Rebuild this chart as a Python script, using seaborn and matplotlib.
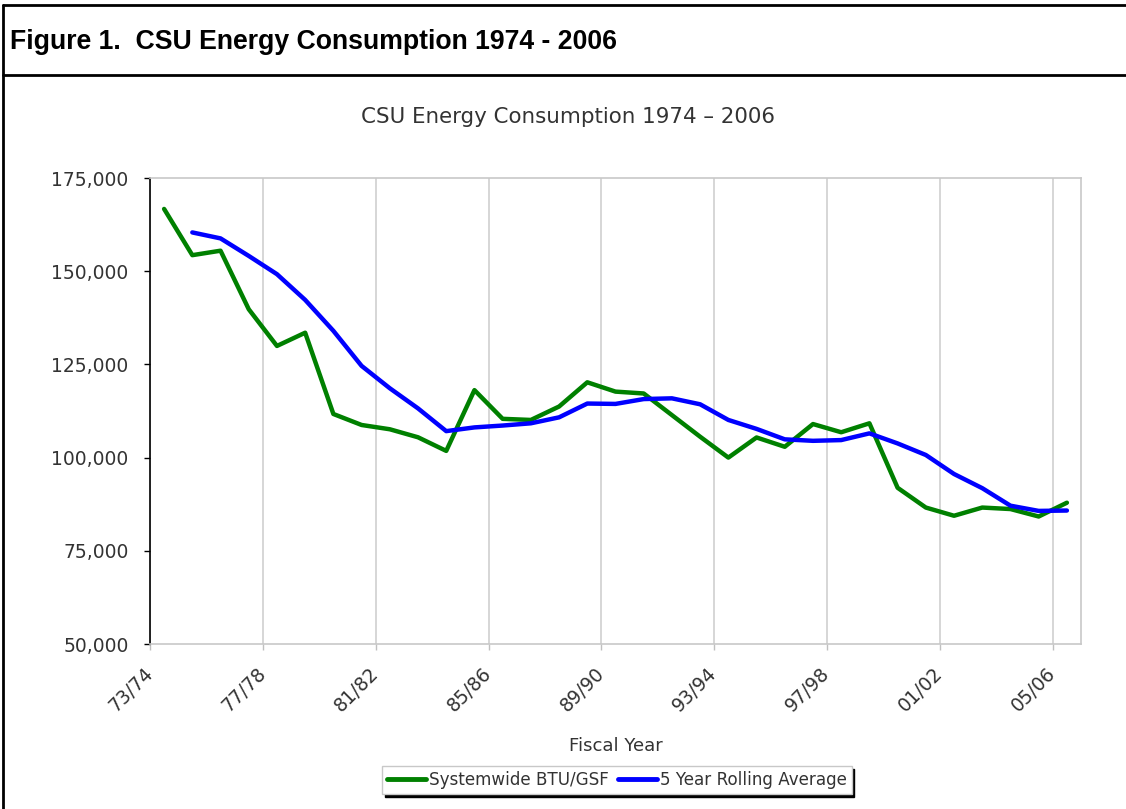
import numpy as np
import pandas as pd
import matplotlib
matplotlib.use("Agg")
import matplotlib.pyplot as plt
from matplotlib.lines import Line2D
import seaborn as sns

# ---- data ----
fiscal_years = ["73/74", "74/75", "75/76", "76/77", "77/78", "78/79", "79/80", "80/81",
                "81/82", "82/83", "83/84", "84/85", "85/86", "86/87", "87/88", "88/89",
                "89/90", "90/91", "91/92", "92/93", "93/94", "94/95", "95/96", "96/97",
                "97/98", "98/99", "99/00", "00/01", "01/02", "02/03", "03/04", "04/05", "05/06"]
systemwide_btu_gsf = [166700, 154300, 155500, 139800, 129950, 133500, 111700, 108750,
                      107600, 105450, 101800, 118100, 110400, 110100, 113700, 120200,
                      117700, 117200, 111400, 105600, 100000, 105400, 102900, 109000,
                      106800, 109200, 91900, 86600, 84400, 86600, 86200, 84200, 87900]
rolling_avg_5yr = [np.nan, 160400, 158800, 154100, 149200, 142300, 134000, 124600,
                   118600, 113200, 107100, 108100, 108600, 109200, 110800, 114500,
                   114400, 115700, 115900, 114300, 110100, 107700, 104900, 104500,
                   104700, 106500, 103800, 100700, 95600, 91800, 87100, 85700, 85800]
tick_labels = fiscal_years[::4]
y_ticks = [50000, 75000, 100000, 125000, 150000, 175000]

series_names = ["Systemwide BTU/GSF", "5 Year Rolling Average"]
series_colors = ["#008000", "#0000ff"]

# ---- figure ----
sns.set_theme(style="white")
plt.rcParams["font.family"] = ["DejaVu Sans"]

W, H = 1126, 809
fig = plt.figure(figsize=(W / 100, H / 100), dpi=100)
ax = fig.add_axes([150 / W, 1 - 644 / H, (1081 - 150) / W, (644 - 178) / H])

idx = np.arange(len(fiscal_years))
df = pd.DataFrame({"idx": idx, series_names[0]: systemwide_btu_gsf,
                   series_names[1]: rolling_avg_5yr})
for name, col in zip(series_names, series_colors):
    sns.lineplot(data=df, x="idx", y=name, color=col, linewidth=3.2, ax=ax,
                 label=name, legend=False)

ax.set_xlim(-0.5, len(fiscal_years) - 0.5)
ax.set_ylim(50000, 175000)
ax.set_yticks(y_ticks)
ax.set_yticklabels([f"{v:,}" for v in y_ticks])
tick_pos = idx[::4] - 0.5
ax.set_xticks(tick_pos)
ax.set_xticklabels(tick_labels)

text_col = "#333333"
ax.tick_params(axis="y", direction="out", length=4.5, width=1, color="black",
               labelsize=13.5, labelcolor=text_col, pad=11, left=True)
ax.tick_params(axis="x", direction="out", length=4.3, width=1, color="#c0c0c0",
               labelsize=13.5, labelcolor=text_col, pad=15, bottom=True)
for lab in ax.get_xticklabels():
    lab.set_rotation(45)
    lab.set_ha("right")
    lab.set_va("center")
    lab.set_rotation_mode("anchor")

ax.xaxis.grid(True, color="#cfcfcf", linewidth=1.2)
ax.yaxis.grid(False)
for s in ["top", "right", "bottom"]:
    ax.spines[s].set_color("#c8c8c8")
    ax.spines[s].set_linewidth(1.2)
ax.spines["left"].set_color("black")
ax.spines["left"].set_linewidth(1.2)

ax.set_xlabel("Fiscal Year", fontsize=13, color=text_col, labelpad=15)
ax.set_ylabel("")

# chart title
fig.text(568 / W, 1 - 117 / H, "CSU Energy Consumption 1974 \u2013 2006",
         ha="center", va="center", fontsize=15.4, color=text_col)

# header
fig.text(10 / W, 1 - 42 / H, "Figure 1.  CSU Energy Consumption 1974 - 2006",
         ha="left", va="center", fontsize=19.2, fontweight="bold",
         family=["Liberation Sans", "DejaVu Sans"], color="black")

# frame lines
fig.add_artist(Line2D([3 / W, 3 / W], [0, 1 - 5 / H], color="black", linewidth=2,
                      transform=fig.transFigure))
fig.add_artist(Line2D([3 / W, 1], [1 - 5 / H, 1 - 5 / H], color="black", linewidth=2,
                      transform=fig.transFigure))
fig.add_artist(Line2D([3 / W, 1], [1 - 75 / H, 1 - 75 / H], color="black", linewidth=2,
                      transform=fig.transFigure))

# legend
handles = [Line2D([], [], color=c, linewidth=3.5) for c in series_colors]
leg = fig.legend(handles, series_names, loc="center",
                 bbox_to_anchor=(617 / W, 1 - 780 / H), ncol=2, frameon=True,
                 fancybox=False, shadow={"color": "black", "alpha": 1.0},
                 edgecolor="#c8c8c8", framealpha=1, fontsize=12.1,
                 handlelength=2.3, handletextpad=0.15, columnspacing=0.6,
                 borderpad=0.3, borderaxespad=0)
for t in leg.get_texts():
    t.set_color(text_col)

fig.savefig("out.png", dpi=100, facecolor="white")
